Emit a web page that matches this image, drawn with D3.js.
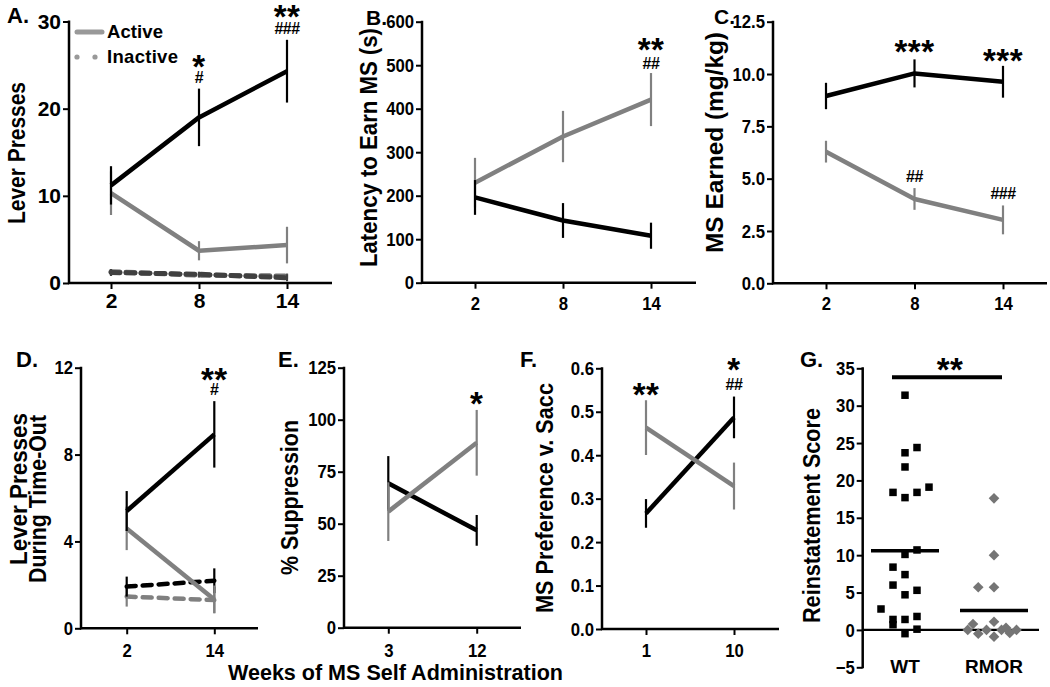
<!DOCTYPE html>
<html><head><meta charset="utf-8">
<script src="https://cdn.jsdelivr.net/npm/d3@7"></script>
<style>body{margin:0;background:#fff} svg{display:block}</style>
</head><body><svg id="c" width="1050" height="687"></svg>
<script>
// ---------------- data ----------------
// Panel A: Lever presses
const weeksA = [2, 8, 14];
const A_wtActive = [11.2, 19.0, 24.3];
const A_wtActiveErr = [2.2, 3.3, 3.6];
const A_rmActive = [10.3, 3.7, 4.35];
const A_rmActiveErr = [2.5, 1.1, 2.1];
const A_wtInactive = [1.2, 1.0, 0.6];
const A_wtInactiveErr = [0.4, 0.3, 0.4];
const A_rmInactive = [1.3, 0.9, 0.8];
const A_rmInactiveErr = [0.3, 0.3, 0.3];
const A_ticksY = [0, 10, 20, 30];
// Panel B: Latency
const weeksB = [2, 8, 14];
const B_wt = [196, 143, 108];
const B_wtErr = [40, 40, 30];
const B_rm = [230, 336, 421];
const B_rmErr = [57, 59, 61];
const B_ticksY = [0, 100, 200, 300, 400, 500, 600];
// Panel C: MS earned
const weeksC = [2, 8, 14];
const C_wt = [8.95, 10.03, 9.63];
const C_wtErr = [0.63, 0.67, 0.76];
const C_rm = [6.29, 4.03, 3.03];
const C_rmErr = [0.52, 0.52, 0.69];
const C_ticksY = [0, 2.5, 5, 7.5, 10, 12.5];
// Panel D: time-out presses
const weeksD = [2, 14];
const D_wtActive = [5.4, 8.93];
const D_wtActiveErr = [0.92, 1.53];
const D_rmActive = [4.6, 1.33];
const D_rmActiveErr = [1.0, 0.64];
const D_wtInactive = [1.92, 2.19];
const D_wtInactiveErr = [0.46, 0.57];
const D_rmInactive = [1.46, 1.3];
const D_rmInactiveErr = [0.46, 0.6];
const D_ticksY = [0, 4, 8, 12];
// Panel E: % suppression
const weeksE = [3, 12];
const E_wt = [69.4, 46.8];
const E_wtErr = [13.1, 7.4];
const E_rm = [55.8, 88.9];
const E_rmErr = [14.1, 15.8];
const E_ticksY = [0, 25, 50, 75, 100, 125];
// Panel F: preference
const weeksF = [1, 10];
const F_wt = [0.266, 0.487];
const F_wtErr = [0.033, 0.048];
const F_rm = [0.4635, 0.329];
const F_rmErr = [0.063, 0.054];
const F_ticksY = [0, 0.1, 0.2, 0.3, 0.4, 0.5, 0.6];
// Panel G: reinstatement
const groupsG = ["WT", "RMOR"];
const G_wt = [31.4, 24.4, 23.7, 21.8, 18.4, 17.7, 18.4, 19.1, 10.1, 10.7, 8.4, 7.4, 6.0, 4.7, 5.3, 2.8, 1.4, 0.7, 1.4, 1.8, -0.5, 0.1];
const G_wtSlot = [0, 1, 0, 0, -1, 0, 1, 2, 0, 1, -1, 0, -1, 0, 1, -2, -1, -1, 0, 1, 0, 1];
const G_rm = [17.6, 10.0, 5.7, 5.7, 0.8, -0.5, 0.0, 1.1, -0.9, 0.0, -0.4, 0.0, 0.0, 0.3];
const G_rmSlot = [0, 0, -2.1, 0, -2.8, -2.1, -1, 0, 0, 1, 2.1, 3, -3.5, 1.6];
const G_means = [10.6, 2.6];
const G_sigLevel = 33.8;
const G_ticksY = [-5, 0, 5, 10, 15, 20, 25, 30, 35];

// annotations [x value, y value (glyph centre), text]
const A_annot = [[8, 25.6, "*"], [8, 23.6, "#"], [14, 31.4, "**"], [14, 29.2, "###"]];
const B_annot = [[14, 551, "**"], [14, 505, "##"]];
const C_annot = [[8, 11.39, "***"], [14, 10.96, "***"], [8, 5.13, "##"], [14, 4.31, "###"]];
const D_annot = [[14, 11.8, "**"], [14, 11.0, "#"]];
const E_annot = [[12, 111, "*"]];
const F_annot = [[1, 0.555, "**"], [10, 0.614, "*"], [10, 0.562, "##"]];

// ---------------- drawing ----------------
const FONT = "'Liberation Sans', Arial, Helvetica, sans-serif";
const BLACK = "#000", GRAY = "#808080";
const svg = d3.select("#c");

function axes(p) {
  const g = svg.append("g");
  const sx = p.squeeze || 1;
  const ay = g.append("g").attr("transform", `translate(${p.axisX},0)`)
    .call(d3.axisLeft(p.y).tickValues(p.yTicks).tickFormat(p.yFmt).tickSize(6).tickPadding(2));
  ay.select(".domain").remove();
  ay.selectAll(".tick line").attr("stroke", "#000").attr("stroke-width", 2);
  ay.selectAll(".tick text").attr("fill", "#000").style("font", `bold ${p.fs}px ${FONT}`)
    .attr("transform", `translate(-8,0) scale(${sx},1) translate(8,0)`);
  const yr = p.y.range();
  g.append("line").attr("x1", p.axisX).attr("x2", p.axisX)
    .attr("y1", yr[0] + 1).attr("y2", yr[1] - 1)
    .attr("stroke", "#000").attr("stroke-width", 2.5);
  if (p.xTicks) {
    const ax = g.append("g").attr("transform", `translate(0,${p.axisY})`)
      .call(d3.axisBottom(p.x).tickValues(p.xTicks).tickFormat(d3.format("d")).tickSize(6).tickPadding(p.xPad));
    ax.select(".domain").remove();
    ax.selectAll(".tick line").attr("stroke", "#000").attr("stroke-width", 2);
    ax.selectAll(".tick text").attr("fill", "#000").style("font", `bold ${p.fsx || p.fs}px ${FONT}`)
      .attr("transform", `scale(${sx},1)`);
    g.append("line").attr("x1", p.axisX - 1).attr("x2", p.axisEnd)
      .attr("y1", p.axisY).attr("y2", p.axisY)
      .attr("stroke", "#000").attr("stroke-width", 2.5);
  }
}

function series(p, xs, vals, errs, color, o = {}) {
  const g = svg.append("g");
  const data = xs.map((x, i) => ({ x, v: vals[i], e: errs[i] }));
  g.selectAll("line.err").data(data).join("line")
    .attr("x1", d => p.x(d.x)).attr("x2", d => p.x(d.x))
    .attr("y1", d => p.y(d.v - d.e)).attr("y2", d => p.y(d.v + d.e))
    .attr("stroke", o.errColor || color).attr("stroke-width", 2.2);
  const line = d3.line().x(d => p.x(d.x)).y(d => p.y(d.v));
  g.append("path").attr("d", line(data)).attr("fill", "none")
    .attr("stroke", color).attr("stroke-width", o.width || 4.5)
    .attr("stroke-dasharray", o.dash || null)
    .attr("stroke-linecap", o.dash ? "round" : "butt")
    .attr("stroke-linejoin", "round");
}

function annots(p, list) {
  list.forEach(([xv, yv, t]) => {
    const star = t[0] === "*";
    const fs = star ? 33 : 16;
    const off = star ? 0.56 * fs : 0.35 * fs;
    svg.append("text").attr("x", p.x(xv)).attr("y", p.y(yv) + off)
      .attr("text-anchor", "middle")
      .style("font", `bold ${fs}px ${FONT}`)
      .style("letter-spacing", star ? "0.5px" : "-0.5px")
      .text(t);
  });
}

function ylab(lines, yc, fs) {
  lines.forEach(([t, bx, len, yy]) => {
    svg.append("text").attr("transform", `translate(${bx},${yy || yc}) rotate(-90)`)
      .attr("x", -len / 2).attr("text-anchor", "start")
      .attr("textLength", len).attr("lengthAdjust", "spacingAndGlyphs")
      .style("font", `bold ${fs}px ${FONT}`).text(t);
  });
}

function plabel(t, x, y, fs = 22) {
  svg.append("text").attr("x", x).attr("y", y).style("font", `bold ${fs}px ${FONT}`).text(t);
}

const f0 = d3.format("d"), f1 = d3.format(".1f");

// ---- Panel A ----
const pA = { x: d3.scaleLinear().domain([2, 14]).range([111, 287]),
  y: d3.scaleLinear().domain([0, 30]).range([283, 21.5]),
  axisX: 69, axisY: 283, axisEnd: 332, yTicks: A_ticksY, yFmt: f0, xTicks: weeksA, fs: 21, xPad: 4 };
axes(pA);
series(pA, weeksA, A_rmInactive, A_rmInactiveErr, "#707070", { dash: "9,6", width: 5 });
series(pA, weeksA, A_wtInactive, A_wtInactiveErr, "#404040", { dash: "9,6", width: 5 });
series(pA, weeksA, A_rmActive, A_rmActiveErr, GRAY);
series(pA, weeksA, A_wtActive, A_wtActiveErr, BLACK);
annots(pA, A_annot);
// legend
svg.append("line").attr("x1", 77).attr("x2", 102).attr("y1", 32).attr("y2", 32)
  .attr("stroke", "#999").attr("stroke-width", 5).attr("stroke-linecap", "round");
svg.append("text").attr("x", 107).attr("y", 38).attr("textLength", 56).attr("lengthAdjust", "spacing")
  .style("font", `bold 18.5px ${FONT}`).text("Active");
[77, 95].forEach(cx => svg.append("circle").attr("cx", cx).attr("cy", 57).attr("r", 2.6).attr("fill", "#999"));
svg.append("text").attr("x", 107).attr("y", 63).attr("textLength", 71).attr("lengthAdjust", "spacing")
  .style("font", `bold 18.5px ${FONT}`).text("Inactive");
ylab([["Lever Presses", 25, 142]], 153, 23);
plabel("A.", 7, 23);

// ---- Panel B ----
const pB = { x: d3.scaleLinear().domain([2, 14]).range([475, 651]),
  y: d3.scaleLinear().domain([0, 600]).range([282.7, 21.7]),
  axisX: 422, axisY: 282.7, axisEnd: 696, yTicks: B_ticksY, yFmt: f0, xTicks: weeksB, fs: 19, squeeze: 0.88, xPad: 8 };
axes(pB);
series(pB, weeksB, B_rm, B_rmErr, GRAY);
series(pB, weeksB, B_wt, B_wtErr, BLACK);
annots(pB, B_annot);
ylab([["Latency to Earn MS (s)", 377, 239]], 147.5, 23);
plabel("B.", 366, 25, 21);

// ---- Panel C ----
const pC = { x: d3.scaleLinear().domain([2, 14]).range([826, 1003]),
  y: d3.scaleLinear().domain([0, 12.5]).range([283.3, 21.7]),
  axisX: 773, axisY: 283.3, axisEnd: 1047, yTicks: C_ticksY, yFmt: f1, xTicks: weeksC, fs: 19, squeeze: 0.88, xPad: 7.5 };
axes(pC);
series(pC, weeksC, C_rm, C_rmErr, GRAY);
series(pC, weeksC, C_wt, C_wtErr, BLACK);
annots(pC, C_annot);
ylab([["MS Earned (mg/kg)", 723, 221]], 142.5, 23.5);
plabel("C.", 714, 24, 21);

// ---- Panel D ----
const pD = { x: d3.scaleLinear().domain([2, 14]).range([126.7, 214.3]),
  y: d3.scaleLinear().domain([0, 12]).range([628.3, 367.7]),
  axisX: 81, axisY: 628.3, axisEnd: 258, yTicks: D_ticksY, yFmt: f0, xTicks: weeksD, fs: 19, squeeze: 0.88, xPad: 9 };
axes(pD);
series(pD, weeksD, D_rmInactive, D_rmInactiveErr, GRAY, { dash: "9,7", width: 4.5 });
series(pD, weeksD, D_wtInactive, D_wtInactiveErr, BLACK, { dash: "9,7", width: 4.5 });
series(pD, weeksD, D_rmActive, D_rmActiveErr, GRAY);
series(pD, weeksD, D_wtActive, D_wtActiveErr, BLACK);
annots(pD, D_annot);
ylab([["Lever Presses", 27, 152, 489], ["During Time-Out", 46, 168, 499]], 490, 23);
plabel("D.", 16, 367);

// ---- Panel E ----
const pE = { x: d3.scaleLinear().domain([3, 12]).range([388.3, 476.7]),
  y: d3.scaleLinear().domain([0, 125]).range([627.7, 367.7]),
  axisX: 344, axisY: 627.7, axisEnd: 521, yTicks: E_ticksY, yFmt: f0, xTicks: weeksE, fs: 19, squeeze: 0.88, xPad: 9.5 };
axes(pE);
series(pE, weeksE, E_wt, E_wtErr, BLACK);
series(pE, weeksE, E_rm, E_rmErr, GRAY);
annots(pE, E_annot);
ylab([["% Suppression", 298, 155]], 497.5, 23);
plabel("E.", 278, 367);

// ---- Panel F ----
const pF = { x: d3.scaleLinear().domain([1, 10]).range([646, 734]),
  y: d3.scaleLinear().domain([0, 0.6]).range([629, 368.3]),
  axisX: 602, axisY: 629, axisEnd: 779, yTicks: F_ticksY, yFmt: f1, xTicks: weeksF, fs: 19, squeeze: 0.88, xPad: 9 };
axes(pF);
series(pF, weeksF, F_wt, F_wtErr, BLACK);
series(pF, weeksF, F_rm, F_rmErr, GRAY);
annots(pF, F_annot);
ylab([["MS Preference v. Sacc", 553, 230]], 498, 23);
plabel("F.", 520, 367);

// ---- Panel G ----
const pG = { x: d3.scalePoint().domain(groupsG).range([905, 994]),
  y: d3.scaleLinear().domain([-5, 35]).range([667.3, 368.3]),
  axisX: 862.7, yTicks: G_ticksY, yFmt: f0, fs: 19, squeeze: 0.88 };
axes(pG);
svg.append("line").attr("x1", pG.axisX).attr("x2", 1039).attr("y1", pG.y(0)).attr("y2", pG.y(0))
  .attr("stroke", "#000").attr("stroke-width", 2.2);
const sq = 7.5;
svg.append("g").selectAll("rect").data(G_rm.map((v, i) => ({ v, s: G_rmSlot[i] }))).join("rect")
  .attr("x", -sq / 2).attr("y", -sq / 2).attr("width", sq).attr("height", sq).attr("fill", "#757575")
  .attr("transform", d => `translate(${pG.x("RMOR") + d.s * 7.5},${pG.y(d.v)}) rotate(45)`);
svg.append("g").selectAll("rect").data(G_wt.map((v, i) => ({ v, s: G_wtSlot[i] }))).join("rect")
  .attr("x", d => pG.x("WT") + d.s * 12 - sq / 2).attr("y", d => pG.y(d.v) - sq / 2)
  .attr("width", sq).attr("height", sq).attr("fill", "#000");
svg.append("g").selectAll("line").data(groupsG.map((g, i) => ({ g, m: G_means[i] }))).join("line")
  .attr("x1", d => pG.x(d.g) - 34).attr("x2", d => pG.x(d.g) + 34)
  .attr("y1", d => pG.y(d.m)).attr("y2", d => pG.y(d.m))
  .attr("stroke", "#000").attr("stroke-width", 3.5);
svg.append("line").attr("x1", 892).attr("x2", 1002).attr("y1", pG.y(G_sigLevel)).attr("y2", pG.y(G_sigLevel))
  .attr("stroke", "#000").attr("stroke-width", 4);
svg.append("text").attr("x", 950).attr("y", 363 + 18).attr("text-anchor", "middle")
  .style("font", `bold 33px ${FONT}`).style("letter-spacing", "0.5px").text("**");
groupsG.forEach(gn => svg.append("text").attr("x", pG.x(gn)).attr("y", 673).attr("text-anchor", "middle")
  .style("font", `bold 19px ${FONT}`).text(gn));
ylab([["Reinstatement Score", 820, 215]], 515.5, 23);
plabel("G.", 800, 367);

// shared x label
svg.append("text").attr("x", 228).attr("y", 680).attr("text-anchor", "start")
  .attr("textLength", 335).attr("lengthAdjust", "spacingAndGlyphs")
  .style("font", `bold 21.5px ${FONT}`).text("Weeks of MS Self Administration");
</script></body></html>
